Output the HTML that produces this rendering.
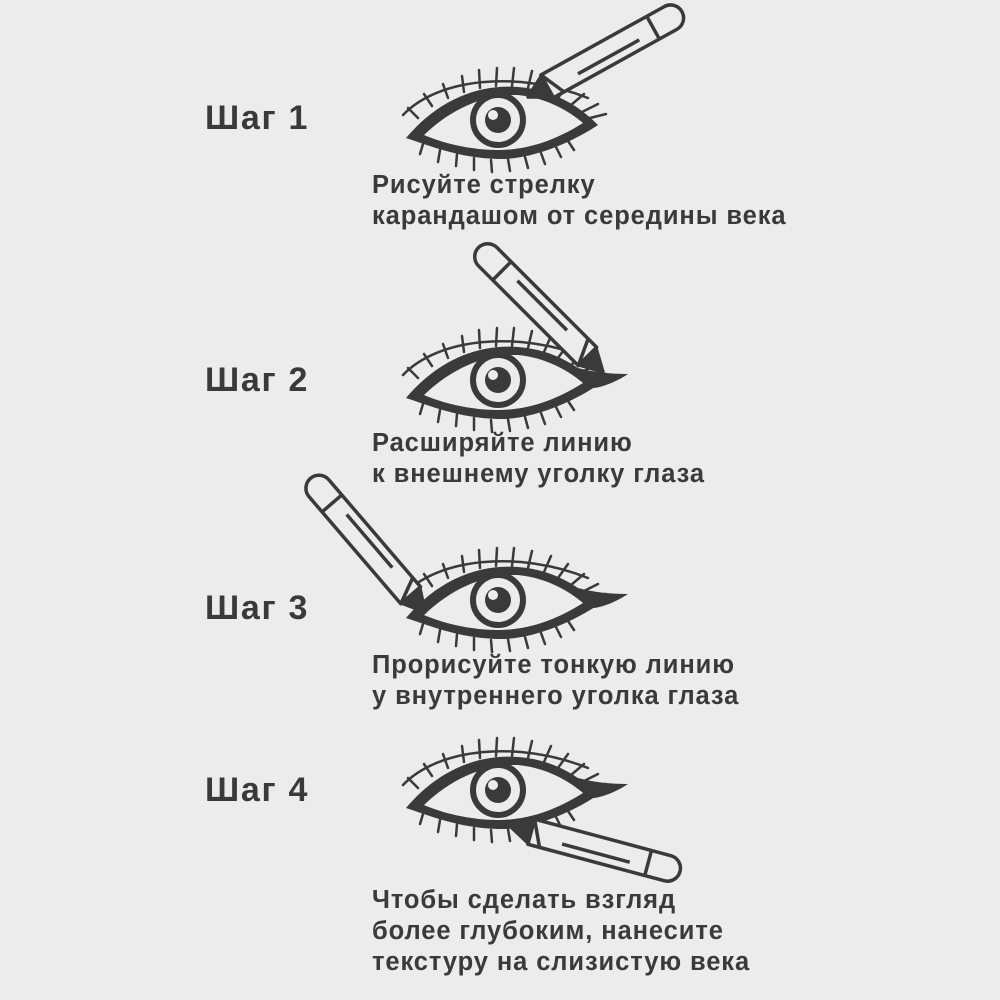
<!DOCTYPE html>
<html><head><meta charset="utf-8"><style>
body{margin:0;width:1000px;height:1000px;background:#ececec;overflow:hidden;position:relative;font-family:"Liberation Sans",sans-serif;color:#3a3a3a}
.s{position:absolute;left:205px;font-weight:bold;font-size:34px;letter-spacing:1.7px}
.c{position:absolute;left:372px;font-weight:bold;font-size:25.5px;line-height:31px;letter-spacing:0.9px}
svg{position:absolute;left:0;top:0}
</style></head><body>
<svg width="1000" height="1000" viewBox="0 0 1000 1000">
<defs>
<g id="eye">
 <g stroke="#3a3a3a" stroke-width="2.5" stroke-linecap="round" fill="none">
  <path d="M-80,-2 L-90,-12 M-66,-14 L-74,-26 M-50,-22 L-55,-36 M-34,-28 L-36,-44 M-18,-32 L-19,-50 M-2,-34 L-1,-52 M14,-34 L16,-52 M30,-32 L34,-49 M46,-28 L53,-44 M60,-22 L70,-36 M73,-15 L86,-26 M84,-8 L100,-16 M92,-2 L108,-6"/>
  <path d="M-75,24 L-78,34 M-58,30 L-60,42 M-41,34 L-42,46 M-24,38 L-24,50 M-7,40 L-6,52 M10,39 L12,51 M27,37 L30,48 M43,33 L47,44 M58,27 L63,37 M70,21 L76,30"/>
  <path d="M-95,-5 C-60,-42 20,-50 90,-22"/>
 </g>
 <path fill="#3a3a3a" d="M-92,18 C-60,-20 -20,-36 20,-33 C60,-30 85,-10 100,5 C70,25 30,40 0,39 C-40,38 -70,25 -92,18 Z"/>
 <path fill="#ececec" d="M-74,15 C-44,-14 -10,-26 20,-25 C50,-22 72,-8 85,3 C58,20 30,30 0,30 C-30,30 -58,22 -74,15Z"/>
 <circle r="25" fill="#ececec" stroke="#3a3a3a" stroke-width="6"/>
 <circle r="13" fill="#3a3a3a"/>
 <circle cx="-5" cy="-5" r="5" fill="#ececec"/>
</g>
<g id="pen" fill="#ececec" stroke="#3a3a3a" stroke-width="3.5" stroke-linejoin="round">
 <path d="M0,0 L22,-12 L22,12 Z" fill="#3a3a3a"/>
 <path d="M22,-13 H163 A13,13 0 0 1 163,13 H22 Z"/>
 <path d="M22,-13 L34,13 M143,-13 V13 M55,4 H125" fill="none"/>
</g>
<path id="wing" fill="#3a3a3a" d="M80,-12 C95,-8 110,-6 130,-6 C115,4 100,8 95,8 Z"/>
</defs>
<use href="#eye" x="498" y="120"/>
<use href="#pen" transform="translate(528,97) rotate(-29)"/>

<use href="#eye" x="498" y="380"/>
<use href="#wing" x="498" y="380"/>
<use href="#pen" transform="translate(603,372) rotate(-135)"/>

<use href="#eye" x="498" y="600"/>
<use href="#wing" x="498" y="600"/>
<use href="#pen" transform="translate(425,612) rotate(-130.6)"/>

<use href="#eye" x="498" y="790"/>
<use href="#wing" x="498" y="790"/>
<use href="#pen" transform="translate(510,826) rotate(15)"/>
</svg>
<div class="s" style="top:99px">Шаг 1</div>
<div class="c" style="top:170px">Рисуйте стрелку<br>карандашом от середины века</div>
<div class="s" style="top:361px">Шаг 2</div>
<div class="c" style="top:428px">Расширяйте линию<br>к внешнему уголку глаза</div>
<div class="s" style="top:589px">Шаг 3</div>
<div class="c" style="top:650px">Прорисуйте тонкую линию<br>у внутреннего уголка глаза</div>
<div class="s" style="top:771px">Шаг 4</div>
<div class="c" style="top:885px">Чтобы сделать взгляд<br>более глубоким, нанесите<br>текстуру на слизистую века</div>
</body></html>
